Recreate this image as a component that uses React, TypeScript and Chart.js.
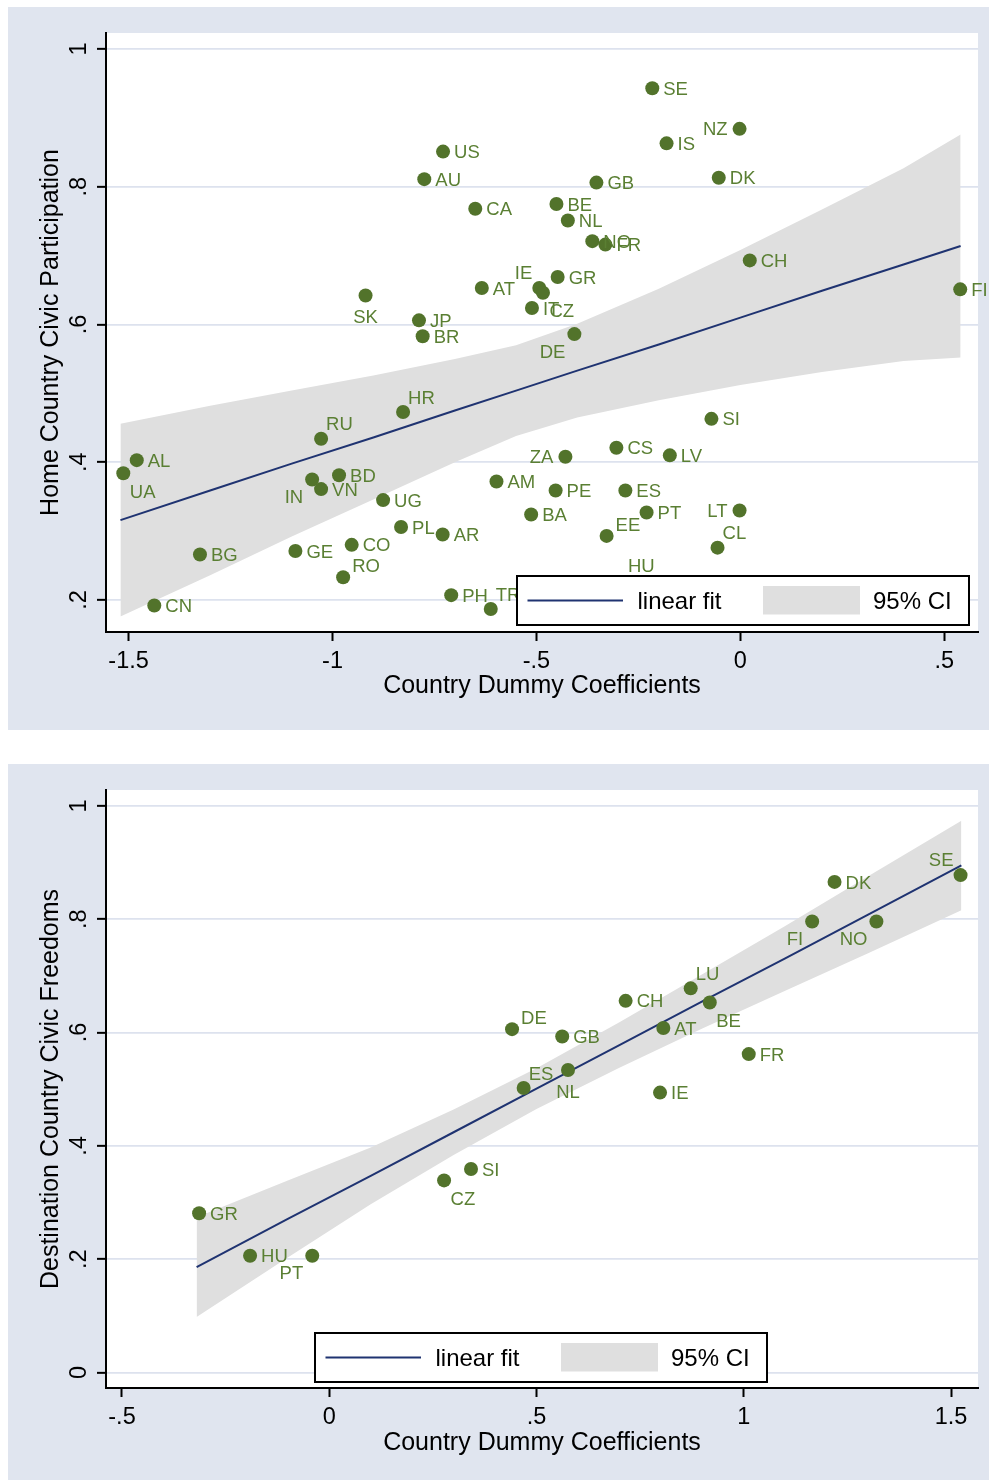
import React, { useEffect, useRef } from 'react';
import { Chart, registerables } from 'chart.js';

Chart.register(...registerables);

// ---------- Data: top panel (Home Country Civic Participation) ----------
const topCodes = ['SE','NZ','IS','DK','GB','BE','NL','NO','FR','CH','FI','GR','IE','CZ','AT','IT','DE','US','AU','CA','SK','JP','BR','HR','RU','AL','UA','BD','IN','VN','UG','PL','AR','BG','GE','CO','RO','CN','PH','TR','SI','ZA','CS','LV','AM','PE','ES','BA','PT','LT','EE','CL','HU'];
const topCoef = [-0.216,-0.002,-0.181,-0.053,-0.353,-0.451,-0.423,-0.363,-0.331,0.023,0.539,-0.448,-0.493,-0.484,-0.634,-0.511,-0.407,-0.729,-0.775,-0.650,-0.919,-0.788,-0.779,-0.827,-1.028,-1.480,-1.513,-0.984,-1.050,-1.028,-0.876,-0.832,-0.730,-1.325,-1.091,-0.953,-0.974,-1.437,-0.709,-0.612,-0.071,-0.429,-0.304,-0.173,-0.598,-0.453,-0.282,-0.513,-0.230,-0.002,-0.328,-0.056,-0.243];
const topParticipation = [0.943,0.884,0.863,0.813,0.806,0.775,0.751,0.721,0.716,0.693,0.651,0.669,0.653,0.646,0.653,0.624,0.586,0.851,0.811,0.768,0.642,0.606,0.583,0.473,0.434,0.403,0.384,0.381,0.375,0.361,0.345,0.306,0.295,0.266,0.271,0.280,0.233,0.192,0.207,0.187,0.463,0.408,0.421,0.410,0.372,0.359,0.359,0.324,0.327,0.330,0.293,0.276,0.223];
const topLabelClock = [3,9,3,3,3,3,3,3,3,3,3,3,11,5,3,3,7,3,3,3,6,3,3,1,1,3,5,3,7,3,3,3,3,3,3,3,2,3,3,1,3,9,3,3,3,3,3,3,3,9,2,1,12];
const topFitX = [-1.52,-1.3,-1.1,-0.9,-0.7,-0.55,-0.4,-0.2,0,0.2,0.4,0.54];
const topFitY = [0.316,0.359,0.398,0.436,0.475,0.504,0.533,0.571,0.610,0.649,0.687,0.714];
const topCiUpper = [0.456,0.482,0.504,0.526,0.550,0.570,0.601,0.652,0.708,0.767,0.827,0.876];
const topCiLower = [0.176,0.236,0.292,0.346,0.400,0.438,0.465,0.490,0.512,0.531,0.547,0.552];
const topXTicks = [-1.5,-1,-0.5,0,0.5];
const topYTicks = [0.2,0.4,0.6,0.8,1];

// ---------- Data: bottom panel (Destination Country Civic Freedoms) ----------
const bottomCodes = ['SE','DK','FI','NO','LU','BE','CH','AT','DE','GB','FR','ES','NL','IE','SI','CZ','GR','HU','PT'];
const bottomCoef = [1.523,1.219,1.165,1.320,0.872,0.918,0.715,0.806,0.441,0.562,1.012,0.469,0.576,0.798,0.342,0.277,-0.314,-0.191,-0.041];
const bottomFreedoms = [0.878,0.866,0.796,0.796,0.678,0.653,0.656,0.608,0.606,0.593,0.562,0.502,0.534,0.494,0.359,0.339,0.281,0.206,0.206];
const bottomLabelClock = [11,3,7,7,1,5,3,3,2,3,3,1,6,3,3,5,3,3,7];
const bottomFitX = [-0.32,-0.1,0.1,0.3,0.5,0.7,0.9,1.1,1.3,1.525];
const bottomFitY = [0.186,0.271,0.347,0.424,0.501,0.578,0.655,0.731,0.808,0.895];
const bottomCiUpper = [0.274,0.339,0.397,0.464,0.537,0.618,0.703,0.788,0.876,0.974];
const bottomCiLower = [0.098,0.203,0.297,0.384,0.465,0.538,0.607,0.674,0.740,0.816];
const bottomXTicks = [-0.5,0,0.5,1,1.5];
const bottomYTicks = [0,0.2,0.4,0.6,0.8,1];

// ---------- Styles ----------
const FONT = '"Liberation Sans", Arial, Helvetica, sans-serif';
const PANEL_BG = '#e0e5ef';
const GRID = '#dde2ee';
const MARKER = '#52732b';
const LABEL = '#5a7f33';
const NAVY = '#1f3371';
const BAND = '#dfdfdf';
const CANVAS_W = 981;

// clock position -> [dx, dy (cap centre), align]
const CLOCK: Record<number, [number, number, CanvasTextAlign]> = {
  3: [11, 0, 'left'],
  9: [-12, 0, 'right'],
  12: [0, -19, 'center'],
  6: [0, 21, 'center'],
  1: [5, -15, 'left'],
  2: [9, -12, 'left'],
  11: [-7, -16, 'right'],
  10: [-9, -12, 'right'],
  5: [6.5, 18, 'left'],
  7: [-9, 17, 'right'],
  4: [9, 12, 'left'],
  8: [-9, 12, 'right'],
};

const fmtTick = (v: number) => (v === 0 ? '0' : String(v).replace(/^(-?)0\./, '$1.'));

type Spec = {
  codes: string[]; xs: number[]; ys: number[]; clocks: number[];
  fitX: number[]; fitY: number[]; ciU: number[]; ciL: number[];
  xTicks: number[]; yTicks: number[];
  xMin: number; xMax: number; yMin: number; yMax: number;
  yTitle: string; height: number; xAxisH: number; xTitlePadB: number;
  legend: 'right' | 'center'; legendBottomGap: number;
};

function buildChart(canvas: HTMLCanvasElement, s: Spec) {
  const bgPlugin = {
    id: 'panelBg',
    beforeDraw(chart: any) {
      const { ctx, chartArea: a, width, height } = chart;
      ctx.save();
      ctx.fillStyle = PANEL_BG;
      ctx.fillRect(0, 0, width, height);
      ctx.fillStyle = '#ffffff';
      ctx.fillRect(a.left, a.top, a.right - a.left, a.bottom - a.top);
      ctx.restore();
    },
  };
  const labelPlugin = {
    id: 'pointLabels',
    afterDatasetsDraw(chart: any) {
      const { ctx } = chart;
      const meta = chart.getDatasetMeta(0);
      const size = 18.5;
      ctx.save();
      ctx.font = `${size}px ${FONT}`;
      ctx.fillStyle = LABEL;
      ctx.textBaseline = 'alphabetic';
      meta.data.forEach((pt: any, i: number) => {
        const { x, y } = pt.getProps(['x', 'y'], true);
        const [dx, dy, align] = CLOCK[s.clocks[i]] || CLOCK[3];
        ctx.textAlign = align;
        ctx.fillText(s.codes[i], x + dx, y + dy + size * 0.358);
      });
      ctx.restore();
    },
  };
  const legendPlugin = {
    id: 'boxLegend',
    afterDraw(chart: any) {
      const { ctx, chartArea: a } = chart;
      const w = 452, h = 49;
      const L = s.legend === 'right' ? a.right - 9 - w : (a.left + a.right) / 2 - 1 - w / 2;
      const T = a.bottom - s.legendBottomGap - h;
      ctx.save();
      ctx.fillStyle = '#ffffff';
      ctx.fillRect(L, T, w, h);
      ctx.strokeStyle = '#000';
      ctx.lineWidth = 2;
      ctx.strokeRect(L, T, w, h);
      ctx.strokeStyle = NAVY;
      ctx.lineWidth = 2;
      ctx.beginPath();
      ctx.moveTo(L + 10.5, T + 24.5);
      ctx.lineTo(L + 106, T + 24.5);
      ctx.stroke();
      ctx.fillStyle = BAND;
      ctx.fillRect(L + 246, T + 10, 97, 28.5);
      ctx.fillStyle = '#000';
      ctx.font = `24px ${FONT}`;
      ctx.textAlign = 'left';
      ctx.textBaseline = 'alphabetic';
      ctx.fillText('linear fit', L + 120.5, T + 33);
      ctx.fillText('95% CI', L + 356, T + 33);
      ctx.restore();
    },
  };

  const pts = s.xs.map((x, i) => ({ x, y: s.ys[i] }));
  const fit = s.fitX.map((x, i) => ({ x, y: s.fitY[i] }));
  const up = s.fitX.map((x, i) => ({ x, y: s.ciU[i] }));
  const lo = s.fitX.map((x, i) => ({ x, y: s.ciL[i] }));

  return new Chart(canvas, {
    type: 'scatter',
    data: {
      datasets: [
        { label: 'points', data: pts, showLine: false, pointRadius: 7, pointHoverRadius: 7, pointBackgroundColor: MARKER, pointBorderWidth: 0, pointBorderColor: MARKER },
        { label: 'linear fit', data: fit, showLine: true, pointRadius: 0, borderColor: NAVY, borderWidth: 2, tension: 0, fill: false },
        { label: '95% CI upper', data: up, showLine: true, pointRadius: 0, borderColor: 'rgba(0,0,0,0)', borderWidth: 0.01, backgroundColor: BAND, fill: '+1', tension: 0 },
        { label: '95% CI lower', data: lo, showLine: true, pointRadius: 0, borderColor: 'rgba(0,0,0,0)', borderWidth: 0.01, fill: false, tension: 0 },
      ],
    },
    options: {
      responsive: false,
      animation: false,
      devicePixelRatio: 1,
      events: [],
      layout: { padding: { top: 26, right: 11, left: 0, bottom: 0 } },
      plugins: { legend: { display: false }, tooltip: { enabled: false }, title: { display: false } },
      scales: {
        x: {
          type: 'linear',
          min: s.xMin,
          max: s.xMax,
          afterBuildTicks: (sc: any) => { sc.ticks = s.xTicks.map((v) => ({ value: v })); },
          afterFit: (sc: any) => { sc.height = s.xAxisH; },
          grid: { display: true, drawOnChartArea: false, drawTicks: true, tickLength: 9, tickWidth: 2, tickColor: '#000' },
          border: { display: true, color: '#000', width: 2 },
          ticks: { autoSkip: false, minRotation: 0, maxRotation: 0, padding: 6, color: '#000', font: { family: FONT, size: 23.5 }, callback: (v: any) => fmtTick(Number(v)) },
          title: { display: true, text: 'Country Dummy Coefficients', color: '#000', font: { family: FONT, size: 25 }, padding: { top: 0, bottom: s.xTitlePadB } },
        },
        y: {
          type: 'linear',
          min: s.yMin,
          max: s.yMax,
          afterBuildTicks: (sc: any) => { sc.ticks = s.yTicks.map((v) => ({ value: v })); },
          afterFit: (sc: any) => { sc.width = 98; },
          grid: { display: true, color: GRID, lineWidth: 1.7, drawOnChartArea: true, drawTicks: true, tickLength: 9, tickWidth: 2, tickColor: '#000' },
          border: { display: true, color: '#000', width: 2 },
          ticks: { autoSkip: false, minRotation: 90, maxRotation: 90, crossAlign: 'center', padding: 8, color: '#000', font: { family: FONT, size: 23.5 }, callback: (v: any) => fmtTick(Number(v)) },
          title: { display: true, text: s.yTitle, color: '#000', font: { family: FONT, size: 25 }, padding: { top: 28.3, bottom: 0 } },
        },
      },
    } as any,
    plugins: [bgPlugin, labelPlugin, legendPlugin],
  });
}

const topSpec: Spec = {
  codes: topCodes, xs: topCoef, ys: topParticipation, clocks: topLabelClock,
  fitX: topFitX, fitY: topFitY, ciU: topCiUpper, ciL: topCiLower,
  xTicks: topXTicks, yTicks: topYTicks,
  xMin: -1.5554, xMax: 0.5826, yMin: 0.1535, yMax: 1.0232,
  yTitle: 'Home Country Civic Participation', height: 723, xAxisH: 98, xTitlePadB: 28.7,
  legend: 'right', legendBottomGap: 7,
};

const bottomSpec: Spec = {
  codes: bottomCodes, xs: bottomCoef, ys: bottomFreedoms, clocks: bottomLabelClock,
  fitX: bottomFitX, fitY: bottomFitY, ciU: bottomCiUpper, ciL: bottomCiLower,
  xTicks: bottomXTicks, yTicks: bottomYTicks,
  xMin: -0.5386, xMax: 1.5651, yMin: -0.0275, yMax: 1.0282,
  yTitle: 'Destination Country Civic Freedoms', height: 716, xAxisH: 92, xTitlePadB: 22,
  legend: 'center', legendBottomGap: 6,
};

function Panel({ spec }: { spec: Spec }) {
  const ref = useRef<HTMLCanvasElement>(null);
  useEffect(() => {
    if (!ref.current) return;
    const chart = buildChart(ref.current, spec);
    return () => chart.destroy();
  }, [spec]);
  return (
    <canvas
      ref={ref}
      width={CANVAS_W}
      height={spec.height}
      style={{ display: 'block', width: CANVAS_W, height: spec.height }}
    />
  );
}

export default function App() {
  return (
    <div style={{ position: 'absolute', left: 8, top: 7, width: CANVAS_W }}>
      <Panel spec={topSpec} />
      <div style={{ height: 34 }} />
      <Panel spec={bottomSpec} />
    </div>
  );
}
